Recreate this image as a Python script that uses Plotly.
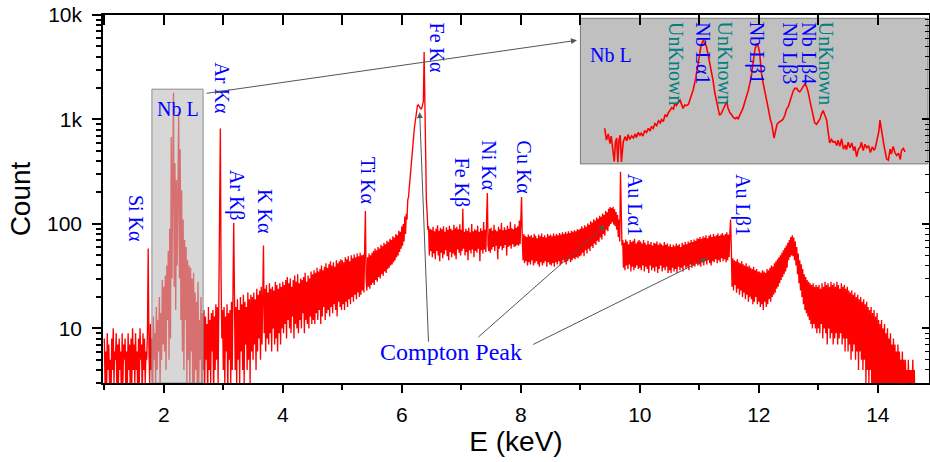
import numpy as np
import plotly.graph_objects as go

# ---------------- spectrum data ----------------
# XRF spectrum in 12.5 eV channels; each list holds 0.5 keV of counts
channel_width_kev = 0.0125
counts_1p0 = [8, 3, 6, 2, 9, 4, 7, 3, 5, 2, 8, 4, 10, 3, 6, 5, 9, 2, 7, 3,
              8, 4, 6, 2, 9, 3, 7, 5, 8, 2, 6, 3, 9, 4, 7, 2, 8, 3, 10, 4]
counts_1p5 = [7, 3, 9, 4, 6, 2, 8, 3, 10, 5, 7, 2, 9, 4, 8, 3, 6, 5, 9, 58,
              7, 3, 11, 4, 8, 2, 13, 5, 9, 3, 16, 4, 12, 6, 20, 3, 14, 5, 29, 7]
counts_2p0 = [25, 6, 32, 4, 40, 12, 55, 5, 90, 8, 680, 30, 300, 1800, 25, 380, 15, 263, 40, 380,
              1180, 30, 520, 12, 210, 6, 110, 4, 70, 12, 60, 3, 45, 5, 40, 2, 38, 6, 30, 2]
counts_2p5 = [34, 3, 22, 4, 18, 2, 28, 3, 12, 5, 20, 2, 14, 4, 15, 3, 13, 5, 11, 2,
              16, 4, 12, 3, 14, 6, 15, 2, 13, 4, 17, 5, 16, 3, 23, 50, 818, 30, 8, 15]
counts_3p0 = [4, 16, 3, 13, 6, 17, 2, 14, 5, 15, 3, 18, 4, 22, 102, 20, 4, 16, 3, 19,
              5, 15, 3, 20, 6, 17, 4, 21, 3, 18, 7, 16, 4, 22, 5, 19, 3, 21, 6, 20]
counts_3p5 = [5, 22, 7, 19, 4, 24, 6, 21, 8, 23, 5, 25, 7, 20, 62, 9, 24, 6, 26, 8,
              22, 7, 27, 9, 24, 6, 25, 10, 23, 7, 28, 8, 26, 6, 24, 9, 27, 7, 25, 10]
counts_4p0 = [28, 9, 26, 11, 29, 8, 31, 12, 27, 10, 30, 9, 25, 13, 29, 8, 32, 11, 28, 10,
              33, 9, 27, 12, 30, 10, 29, 14, 31, 9, 34, 12, 28, 11, 32, 10, 30, 13, 35, 11]
counts_4p5 = [33, 12, 36, 11, 34, 14, 38, 12, 35, 15, 37, 11, 40, 13, 36, 16, 39, 12, 42, 14,
              38, 15, 41, 13, 44, 16, 40, 14, 43, 17, 39, 15, 45, 13, 42, 18, 44, 16, 46, 15]
counts_5p0 = [45, 17, 43, 15, 48, 18, 46, 16, 49, 19, 44, 17, 50, 20, 47, 18, 51, 21, 48, 19,
              52, 22, 49, 20, 53, 21, 50, 23, 51, 22, 55, 133, 30, 23, 48, 25, 52, 24, 50, 26]
counts_5p5 = [53, 27, 55, 26, 58, 29, 56, 28, 60, 31, 58, 30, 63, 33, 61, 32, 66, 35, 64, 34,
              69, 37, 67, 38, 72, 40, 70, 41, 76, 43, 74, 45, 80, 48, 78, 50, 86, 54, 84, 58]
counts_6p0 = [95, 62, 100, 68, 118, 80, 125, 110, 170, 180, 220, 260, 330, 380, 440, 560, 700, 840, 980, 1150,
              1300, 1360, 1380, 1340, 1320, 1270, 1250, 1300, 1380, 1500, 4430, 1000, 500, 170, 130, 88, 95, 50, 90, 55]
counts_6p5 = [88, 48, 94, 52, 85, 46, 90, 55, 97, 50, 86, 44, 92, 53, 89, 47, 95, 51, 84, 56,
              93, 49, 88, 45, 96, 54, 90, 48, 87, 52, 98, 50, 91, 46, 94, 57, 89, 53, 99, 50]
counts_7p0 = [88, 55, 140, 58, 84, 50, 90, 54, 86, 45, 92, 56, 83, 52, 100, 57, 85, 48, 89, 55,
              87, 53, 96, 58, 84, 44, 91, 56, 86, 52, 104, 57, 88, 54, 110, 198, 62, 55, 90, 53]
counts_7p5 = [92, 57, 86, 60, 98, 55, 88, 62, 85, 46, 94, 58, 89, 61, 102, 56, 87, 59, 93, 63,
              88, 50, 96, 60, 90, 62, 105, 58, 91, 64, 89, 60, 99, 61, 92, 63, 95, 62, 108, 64]
counts_8p0 = [110, 181, 70, 45, 80, 42, 77, 44, 75, 40, 79, 43, 76, 41, 78, 45, 74, 40, 80, 42,
              77, 44, 73, 41, 79, 39, 76, 43, 81, 40, 75, 42, 78, 44, 74, 39, 80, 43, 77, 41]
counts_8p5 = [79, 40, 76, 42, 81, 39, 77, 43, 80, 41, 78, 44, 82, 40, 79, 42, 83, 45, 80, 43,
              84, 41, 81, 44, 85, 46, 82, 43, 86, 45, 84, 47, 87, 46, 85, 48, 89, 47, 88, 49]
counts_9p0 = [90, 50, 95, 53, 91, 49, 97, 56, 94, 52, 101, 58, 98, 55, 106, 61, 103, 59, 111, 65,
              108, 63, 115, 69, 112, 67, 120, 74, 117, 71, 126, 80, 122, 77, 133, 88, 129, 85, 140, 95]
counts_9p5 = [145, 100, 142, 104, 146, 98, 138, 95, 130, 88, 122, 75, 110, 68, 315, 120, 62, 70, 38, 66,
              36, 71, 40, 68, 37, 64, 41, 70, 35, 67, 39, 69, 36, 72, 38, 65, 40, 68, 37, 70]
counts_10p0 = [38, 68, 36, 65, 40, 70, 35, 66, 39, 63, 37, 69, 34, 64, 40, 67, 36, 62, 38, 66,
               35, 65, 39, 68, 34, 63, 37, 66, 40, 64, 35, 62, 38, 67, 36, 63, 39, 65, 34, 61]
counts_10p5 = [36, 64, 34, 60, 38, 63, 35, 61, 37, 65, 34, 62, 39, 64, 36, 60, 38, 66, 35, 63,
               40, 67, 37, 64, 39, 68, 36, 66, 41, 70, 38, 67, 40, 71, 39, 69, 42, 73, 40, 72]
counts_11p0 = [41, 75, 39, 72, 43, 76, 40, 74, 44, 78, 41, 73, 45, 77, 42, 79, 40, 75, 44, 80,
               43, 76, 46, 78, 42, 81, 45, 77, 43, 79, 47, 82, 44, 78, 46, 80, 43, 83, 45, 79]
counts_11p5 = [48, 80, 110, 60, 25, 47, 23, 45, 26, 44, 22, 46, 24, 43, 21, 42, 23, 44, 20, 41,
               22, 40, 19, 42, 21, 39, 18, 40, 20, 38, 19, 37, 17, 39, 18, 36, 20, 37, 17, 35]
counts_12p0 = [18, 35, 16, 34, 17, 36, 15, 35, 18, 34, 16, 37, 17, 36, 19, 38, 18, 40, 20, 39,
               21, 42, 22, 44, 24, 46, 25, 48, 27, 50, 29, 53, 31, 56, 33, 59, 35, 62, 38, 66]
counts_12p5 = [45, 70, 48, 75, 50, 78, 49, 74, 45, 68, 40, 60, 33, 52, 27, 45, 23, 41, 20, 37,
               17, 33, 15, 31, 14, 29, 13, 28, 12, 27, 11, 26, 10, 27, 11, 25, 10, 26, 9, 25]
counts_13p0 = [10, 26, 9, 24, 11, 27, 8, 25, 10, 28, 9, 26, 7, 27, 10, 25, 8, 28, 9, 26,
               7, 27, 8, 25, 9, 28, 7, 26, 8, 24, 9, 27, 7, 25, 8, 26, 6, 24, 8, 25]
counts_13p5 = [6, 23, 7, 22, 5, 23, 6, 21, 7, 22, 5, 20, 6, 21, 4, 19, 6, 20, 5, 18,
               4, 19, 5, 17, 3, 18, 4, 16, 3, 15, 4, 16, 2, 14, 3, 15, 2, 13, 3, 14]
counts_14p0 = [2, 12, 3, 11, 2, 12, 2, 10, 3, 11, 2, 9, 2, 10, 3, 8, 2, 9, 2, 7,
               3, 8, 2, 7, 2, 6, 3, 7, 2, 6, 2, 5, 3, 6, 2, 5, 2, 5, 3, 4]
counts_14p5 = [2, 5, 2, 4, 3, 4, 2, 5, 2, 4, 2, 3, 2]

spectrum_blocks = [
    (1.0, counts_1p0), (1.5, counts_1p5), (2.0, counts_2p0), (2.5, counts_2p5),
    (3.0, counts_3p0), (3.5, counts_3p5), (4.0, counts_4p0), (4.5, counts_4p5),
    (5.0, counts_5p0), (5.5, counts_5p5), (6.0, counts_6p0), (6.5, counts_6p5),
    (7.0, counts_7p0), (7.5, counts_7p5), (8.0, counts_8p0), (8.5, counts_8p5),
    (9.0, counts_9p0), (9.5, counts_9p5), (10.0, counts_10p0), (10.5, counts_10p5),
    (11.0, counts_11p0), (11.5, counts_11p5), (12.0, counts_12p0), (12.5, counts_12p5),
    (13.0, counts_13p0), (13.5, counts_13p5), (14.0, counts_14p0), (14.5, counts_14p5),
]
energy, counts = [], []
for start, block in spectrum_blocks:
    energy.extend(start + channel_width_kev * np.arange(len(block)))
    counts.extend(block)

# Nb L region, shown enlarged in the inset (linear counts)
nb_energy = [
    2.002, 2.005, 2.008, 2.011, 2.013, 2.016, 2.018, 2.020, 2.022, 2.024, 2.026, 2.028, 2.030,
    2.033, 2.036, 2.039, 2.041, 2.044, 2.047, 2.050, 2.053, 2.055, 2.058, 2.061, 2.063, 2.066,
    2.069, 2.072, 2.075, 2.078, 2.080, 2.083, 2.086, 2.089, 2.092, 2.095, 2.097, 2.100, 2.103,
    2.106, 2.108, 2.111, 2.114, 2.117, 2.119, 2.122, 2.124, 2.128, 2.131, 2.133, 2.136, 2.139,
    2.142, 2.146, 2.150, 2.154, 2.158, 2.161, 2.163, 2.167, 2.169, 2.172, 2.175, 2.178, 2.181,
    2.183, 2.186, 2.189, 2.192, 2.194, 2.197, 2.200, 2.203, 2.206, 2.208, 2.211, 2.214, 2.217,
    2.220, 2.223, 2.225, 2.228, 2.231, 2.233, 2.236, 2.239, 2.242, 2.245, 2.247, 2.250, 2.253,
    2.256, 2.259, 2.261, 2.264, 2.267, 2.270, 2.273, 2.276, 2.279, 2.281, 2.283, 2.285, 2.288,
    2.290, 2.292, 2.295, 2.298, 2.300, 2.303, 2.306, 2.309, 2.312, 2.315, 2.317, 2.320, 2.323,
    2.325, 2.328, 2.331, 2.334, 2.337, 2.340, 2.342, 2.345, 2.348, 2.351, 2.353, 2.356, 2.359,
    2.362, 2.364, 2.367, 2.370, 2.373, 2.375, 2.378, 2.381, 2.384, 2.387, 2.390, 2.392, 2.395,
    2.398, 2.401, 2.404, 2.406, 2.409, 2.412, 2.415, 2.418, 2.420, 2.423, 2.426, 2.429, 2.431,
    2.434, 2.437, 2.440, 2.443, 2.446, 2.449, 2.452, 2.454, 2.457, 2.460, 2.462, 2.465, 2.468,
    2.471, 2.473, 2.476, 2.479, 2.481, 2.484, 2.487, 2.490, 2.493, 2.496, 2.498, 2.501, 2.504,
]
nb_counts = [
    500, 330, 420, 280, 390, 150, 20, 300, 360, 10, 330, 400, 15,
    300, 380, 320, 410, 340, 390, 360, 420, 370, 440, 400, 430, 390,
    470, 440, 500, 460, 530, 500, 570, 540, 610, 580, 630, 600, 700,
    670, 720, 760, 800, 780, 860, 830, 870, 910, 820, 790, 840, 830,
    850, 950, 1060, 1220, 1400, 1590, 1700, 1780, 1740, 1690, 1560, 1440, 1300,
    1200, 1020, 880, 760, 690, 720, 770, 840, 890, 800, 730, 700, 660,
    640, 660, 640, 690, 760, 790, 880, 950, 1050, 1170, 1250, 1450, 1640,
    1730, 1680, 1590, 1300, 1150, 1000, 860, 760, 620, 570, 470, 360, 480,
    560, 580, 600, 620, 630, 690, 780, 820, 900, 1010, 1040, 1080, 1080,
    1050, 1030, 1070, 1110, 1150, 1090, 1030, 900, 770, 640, 580, 560, 610,
    640, 700, 760, 690, 620, 480, 290, 340, 300, 310, 250, 330, 240,
    350, 200, 260, 190, 300, 220, 290, 180, 240, 90, 200, 230, 300,
    180, 270, 220, 250, 150, 230, 190, 210, 350, 450, 620, 420, 290,
    150, 60, 40, 200, 130, 240, 150, 110, 140, 50, 180, 210, 160,
]

# Line identifications on the main spectrum: label, label centre (keV), label top (count)
peak_labels = ["Si K\u03b1", "Ar K\u03b1", "Ar K\u03b2", "K K\u03b1", "Ti K\u03b1", "Fe K\u03b1",
               "Fe K\u03b2", "Ni K\u03b1", "Cu K\u03b1", "Au L\u03b11", "Au L\u03b21"]
peak_label_kev = [1.545, 2.978, 3.213, 3.689, 5.42, 6.587, 7.007, 7.471, 8.054, 9.919, 11.713]
peak_label_top = [197, 3680, 341, 226, 454, 8890, 454, 656, 656, 315, 315]

# Line identifications inside the inset
inset_labels = ["UnKnown", "Nb L\u03b11", "UnKnown", "Nb L\u03b21", "Nb L\u03b23", "Nb L\u03b24", "UnKnown"]
inset_label_kev = [2.122, 2.166, 2.203, 2.257, 2.311, 2.343, 2.373]
inset_label_colors = ["#008080", "#0000ff", "#008080", "#0000ff", "#0000ff", "#0000ff", "#008080"]

y_tick_vals = [10, 100, 1000, 10000]
y_tick_text = ["10", "100", "1k", "10k"]
y_minor_vals = [m * d for d in (1, 10, 100, 1000) for m in range(2, 10)]

SANS = "Liberation Sans, Arial, sans-serif"
SERIF = "Liberation Serif, Times New Roman, serif"
BLUE = "#0000ff"

x_range = [0.978, 14.86]
y_range = [np.log10(3), 4]

fig = go.Figure()

fig.add_trace(go.Scatter(
    x=energy, y=counts, mode="lines",
    line=dict(color="#ff0000", width=1.35), showlegend=False, hoverinfo="skip",
))
# empty trace that carries the mirrored top/right axes
fig.add_trace(go.Scatter(x=[], y=[], xaxis="x2", yaxis="y2", showlegend=False))
fig.add_trace(go.Scatter(
    x=nb_energy, y=nb_counts, xaxis="x3", yaxis="y3", mode="lines",
    line=dict(color="#ff0000", width=1.6), showlegend=False, hoverinfo="skip",
))

axis_common = dict(showgrid=False, zeroline=False, showline=True, linecolor="black",
                   linewidth=1.5, tickcolor="black", tickwidth=1.5)

fig.update_layout(
    width=930, height=462,
    margin=dict(l=103, r=1, t=15, b=79),
    paper_bgcolor="white", plot_bgcolor="rgba(0,0,0,0)",
    font=dict(family=SANS, color="black"),
    xaxis=dict(
        **axis_common, range=x_range, ticks="outside", ticklen=8, tick0=0, dtick=2,
        tickfont=dict(size=21), ticklabelstandoff=4,
        minor=dict(ticks="outside", ticklen=5, tick0=0, dtick=1, tickcolor="black", tickwidth=1.5),
        title=dict(text="E (keV)", font=dict(size=28), standoff=2),
    ),
    yaxis=dict(
        **axis_common, type="log", range=y_range, ticks="outside", ticklen=9,
        tickmode="array", tickvals=y_tick_vals, ticktext=y_tick_text,
        tickfont=dict(size=21), ticklabelstandoff=6,
        minor=dict(ticks="outside", ticklen=5, tickmode="array", tickvals=y_minor_vals,
                   tickcolor="black", tickwidth=1.5),
        title=dict(text="Count", font=dict(size=28), standoff=8),
    ),
    xaxis2=dict(
        **axis_common, overlaying="x", side="top", anchor="y2", range=x_range,
        ticks="inside", ticklen=10, tick0=0, dtick=1, showticklabels=False,
    ),
    yaxis2=dict(
        **axis_common, overlaying="y", side="right", anchor="x2", type="log", range=y_range,
        ticks="inside", ticklen=7, tickmode="array", tickvals=y_tick_vals, showticklabels=False,
        minor=dict(ticks="inside", ticklen=4, tickmode="array", tickvals=y_minor_vals,
                   tickcolor="black", tickwidth=1),
    ),
    xaxis3=dict(domain=[0.578, 0.9988], anchor="y3", range=[1.9615, 2.5423], visible=False),
    yaxis3=dict(domain=[0.5954, 0.991], anchor="x3", range=[-14, 2095], visible=False),
)

shapes = [
    # inset panel
    dict(type="rect", xref="paper", yref="paper", x0=0.578, x1=0.9988, y0=0.5954, y1=0.991,
         fillcolor="#c0c0c0", line=dict(color="#7a7a7a", width=1), layer="below"),
    # Nb L window on the main spectrum
    dict(type="rect", xref="x", yref="y", x0=1.80, x1=2.66, y0=3, y1=1950,
         fillcolor="rgba(188,188,188,0.6)", line=dict(color="#8c8c8c", width=1), layer="above"),
]
fig.update_layout(shapes=shapes)

annotations = []
for text, xk, top in zip(peak_labels, peak_label_kev, peak_label_top):
    annotations.append(dict(
        x=xk, y=np.log10(top), xref="x", yref="y", text=text, showarrow=False,
        textangle=90, xanchor="center", yanchor="top",
        font=dict(family=SERIF, size=20, color=BLUE),
    ))

annotations.append(dict(
    x=2.23, y=np.log10(1250), xref="x", yref="y", text="Nb L", showarrow=False,
    font=dict(family=SERIF, size=20, color=BLUE),
))
annotations.append(dict(
    x=6.825, y=np.log10(5.9), xref="x", yref="y", text="Compton Peak", showarrow=False,
    font=dict(family=SERIF, size=24, color=BLUE),
))

# pointer from the Nb L window to the inset
annotations.append(dict(
    x=8.944, y=3.758, ax=2.692, ay=3.248, xref="x", yref="y", axref="x", ayref="y",
    text="", showarrow=True, arrowhead=2, arrowsize=1.2, arrowwidth=1, arrowcolor="#555555",
))
# pointers from the Compton label to the three scatter humps
for hx, hy, tx, ty in [(6.30, 3.07, 6.449, 0.858), (9.415, 1.988, 7.259, 0.903),
                       (11.129, 1.672, 8.183, 0.839)]:
    annotations.append(dict(
        x=hx, y=hy, ax=tx, ay=ty, xref="x", yref="y", axref="x", ayref="y",
        text="", showarrow=True, arrowhead=2, arrowsize=1.2, arrowwidth=1, arrowcolor="#555555",
    ))

# inset labels
annotations.append(dict(
    x=2.012, y=0.839, xref="x3", yref="y3 domain", text="Nb L", showarrow=False,
    font=dict(family=SERIF, size=20, color=BLUE),
))
for text, xk, col in zip(inset_labels, inset_label_kev, inset_label_colors):
    annotations.append(dict(
        x=xk, y=0.988, xref="x3", yref="y3 domain", text=text, showarrow=False,
        textangle=90, xanchor="center", yanchor="top",
        font=dict(family=SERIF, size=20, color=col),
    ))

fig.update_layout(annotations=annotations)

fig.write_html("out.html")
